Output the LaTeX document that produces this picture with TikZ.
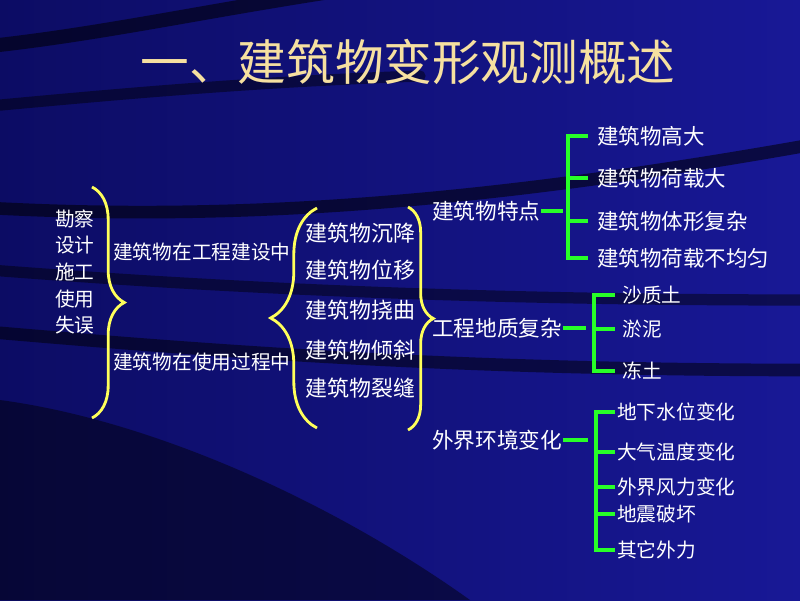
\documentclass[tikz,border=0pt]{standalone}
\usepackage{fontspec}
\setmainfont{Noto Sans CJK SC}
\usetikzlibrary{decorations.pathreplacing}
\definecolor{deepnavy}{RGB}{12,12,100}
\definecolor{slideblue}{RGB}{24,24,150}
\definecolor{bracegold}{RGB}{255,255,90}
\definecolor{treegreen}{RGB}{40,255,40}
\definecolor{titlegold}{RGB}{246,224,160}

\begin{document}
\begin{tikzpicture}[x=0.025cm,y=-0.025cm,
    every node/.style={text=white,inner sep=0pt},
    cause/.style={font=\fontsize{14}{14}\selectfont,anchor=west},
    kind/.style={font=\fontsize{15.6}{15.6}\selectfont,anchor=west},
    factor/.style={font=\fontsize{15.4}{15.4}\selectfont,anchor=west},
    leaf/.style={font=\fontsize{15.3}{15.3}\selectfont,anchor=west,inner xsep=6.4pt},
    soil leaf/.style={font=\fontsize{14}{14}\selectfont,anchor=west,inner xsep=5pt},
    env leaf/.style={font=\fontsize{14}{14}\selectfont,anchor=west,inner xsep=1.4pt},
    curly/.style={draw=bracegold,line width=2pt,decorate},
    twig/.style={draw=treegreen,line width=2.2pt},
    swoosh/.style={draw=black,opacity=.55,line cap=round}
]
\useasboundingbox (0,0) rectangle (800,600);
% background
\shade[left color=deepnavy,right color=slideblue] (0,0) rectangle (800,600);
\draw[swoosh,line width=10pt] (-10,46) .. controls (100,34) and (200,12) .. (330,-8);
\draw[swoosh,line width=8pt,opacity=.45] (-10,106) .. controls (120,94) and (250,82) .. (420,76);
\draw[swoosh,line width=9pt] (-10,208) .. controls (250,222) and (500,200) .. (810,145);
\draw[swoosh,line width=8pt,opacity=.45] (-10,270) .. controls (250,290) and (500,300) .. (810,300);
\draw[swoosh,line width=9pt,opacity=.5] (-10,332) .. controls (200,350) and (450,370) .. (810,370);
\fill[black,opacity=.45] (0,400) .. controls (150,420) and (330,500) .. (470,600) -- (0,600) -- cycle;

% title
\node[font=\fontsize{34.6}{34.6}\selectfont,text=titlegold] (biaoti) at (408,62) {一、建筑物变形观测概述};

% causes
\node[cause,align=left,font=\fontsize{14}{18.85}\selectfont] (yuanyin) at (55,272) {勘察\\设计\\施工\\使用\\失误};
\coordinate (b1top) at (92,187);
\coordinate (b1bot) at (92,418);
\draw[curly,decoration={brace,amplitude=23pt}] (b1top) -- (b1bot);
\node[cause] (jianshe) at (113,252) {建筑物在工程建设中};
\node[cause] (shiyong) at (113,362) {建筑物在使用过程中};

% kinds of deformation
\coordinate (b2bot) at (317,428);
\coordinate (b2top) at (317,208);
\draw[curly,decoration={brace,amplitude=33pt}] (b2bot) -- (b2top);
\node[kind] (chenjiang) at (305,233) {建筑物沉降};
\node[kind] (weiyi) at (305,270) {建筑物位移};
\node[kind] (naoqu) at (305,310) {建筑物挠曲};
\node[kind] (qingxie) at (305,350) {建筑物倾斜};
\node[kind] (liefeng) at (305,388) {建筑物裂缝};
\coordinate (b3top) at (408,207);
\coordinate (b3bot) at (408,430);
\draw[curly,decoration={brace,amplitude=18pt}] (b3top) -- (b3bot);

% factors
\node[factor] (tedian) at (432,211) {建筑物特点};
\node[factor] (dizhi) at (432,328) {工程地质复杂};
\node[factor] (huanjing) at (432,440) {外界环境变化};

\node[leaf] (gaoda) at (588,136) {建筑物高大};
\node[leaf] (hezai) at (588,178) {建筑物荷载大};
\node[leaf] (tixing) at (588,221) {建筑物体形复杂};
\node[leaf] (bujun) at (588,258) {建筑物荷载不均匀};
\coordinate (tdfork) at (568,211);
\draw[twig] (tedian.east) -- ++(22,0);
\draw[twig] (gaoda.west) -| (tdfork |- bujun.west) -- (bujun.west);
\foreach \n in {hezai,tixing}
    \draw[twig] (tdfork |- \n.west) -- (\n.west);

\node[soil leaf] (shazhi) at (615,295) {沙质土};
\node[soil leaf] (yuni) at (615,329) {淤泥};
\node[soil leaf] (dongtu) at (615,371) {冻土};
\coordinate (dzfork) at (594,328);
\draw[twig] (dizhi.east) -- ++(23,0);
\draw[twig] (shazhi.west) -| (dzfork |- dongtu.west) -- (dongtu.west);
\draw[twig] (dzfork |- yuni.west) -- (yuni.west);

\node[env leaf] (shuiwei) at (615,412) {地下水位变化};
\node[env leaf] (wendu) at (615,452) {大气温度变化};
\node[env leaf] (fengli) at (615,487) {外界风力变化};
\node[env leaf] (dizhen) at (615,514) {地震破坏};
\node[env leaf] (waili) at (615,550) {其它外力};
\coordinate (hjfork) at (596,440);
\draw[twig] (huanjing.east) -- ++(25,0);
\draw[twig] (shuiwei.west) -| (hjfork |- waili.west) -- (waili.west);
\foreach \n in {wendu,fengli,dizhen}
    \draw[twig] (hjfork |- \n.west) -- (\n.west);
\end{tikzpicture}
\end{document}
